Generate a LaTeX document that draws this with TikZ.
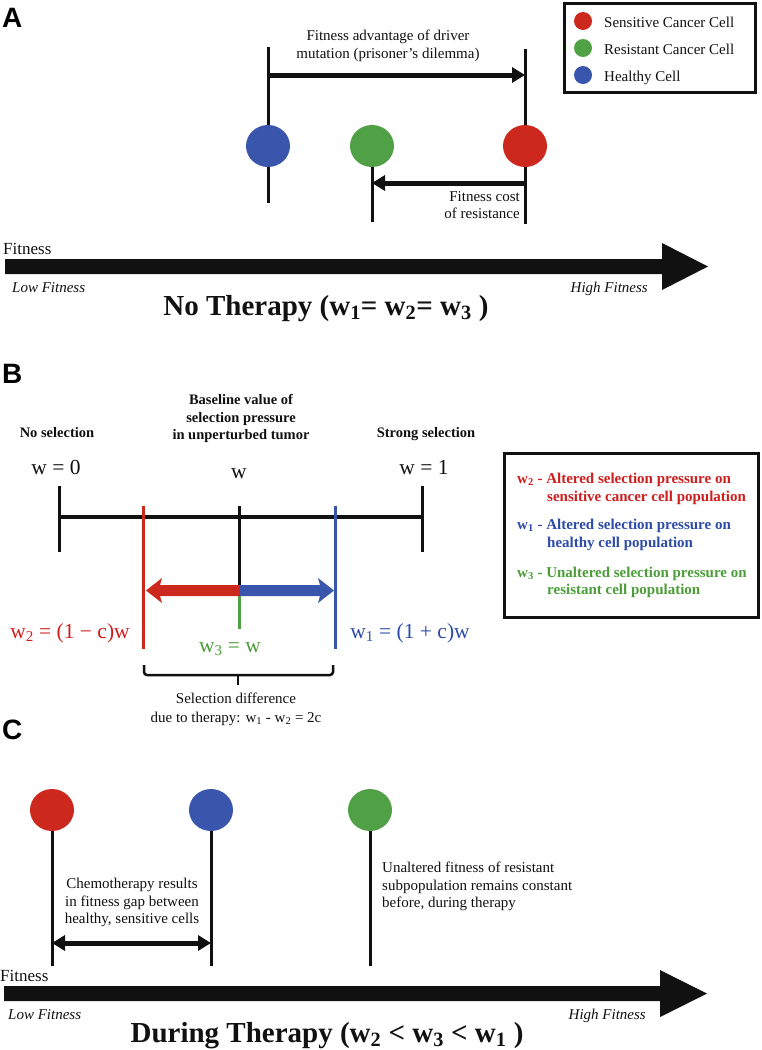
\documentclass[tikz,border=0pt]{standalone}
\usepackage{fontspec}
\setmainfont{Liberation Serif}
\newfontfamily\panelfont{Liberation Sans}
\usetikzlibrary{arrows.meta,shapes.geometric}
\definecolor{cred}{RGB}{204,40,30}
\definecolor{cgreen}{RGB}{80,160,70}
\definecolor{cblue}{RGB}{58,86,172}
\definecolor{tred}{RGB}{208,30,30}
\definecolor{tgreen}{RGB}{75,158,55}
\definecolor{tblue}{RGB}{45,75,168}
\definecolor{ink}{RGB}{17,17,17}
\tikzset{
  panel/.style={font=\panelfont\bfseries\fontsize{28}{30}\selectfont, inner sep=0pt},
  txt/.style={font=\fontsize{15}{17}\selectfont, inner sep=0pt, text=ink},
  txtit/.style={font=\itshape\fontsize{15}{17}\selectfont, inner sep=0pt, text=ink},
  axlab/.style={font=\fontsize{17}{19}\selectfont, inner sep=0pt, text=ink},
  btxt/.style={font=\bfseries\fontsize{14.5}{17}\selectfont, inner sep=0pt, text=ink},
  legtxt/.style={font=\bfseries\fontsize{15}{17}\selectfont, inner sep=0pt, anchor=base west},
  bigtitle/.style={font=\bfseries\fontsize{29}{32}\selectfont, inner sep=0pt, text=ink},
  formula/.style={font=\fontsize{21.5}{24}\selectfont, inner sep=0pt, text=ink},
  cell/.style={ellipse, minimum width=44pt, minimum height=42pt, inner sep=0pt, draw=none},
  dot/.style={circle, minimum size=18pt, inner sep=0pt, draw=none},
  vbar/.style={line width=3pt, draw=ink},
  legbox/.style={draw=ink, line width=2.5pt, inner sep=0pt, anchor=north west},
  thinarrow/.style={draw=ink, line width=5pt, -{Triangle[length=13pt,width=15pt]}},
  gaparrow/.style={draw=ink, line width=5pt, {Triangle[length=13pt,width=15pt]}-{Triangle[length=13pt,width=15pt]}},
}
\begin{document}
\begin{tikzpicture}[x=1pt,y=-1pt]
\useasboundingbox (0,0) rectangle (762,1050);
\fill[white] (0,0) rectangle (762,1050);

% ================= Panel A =================
\node[panel, anchor=base west] (labA) at (2,27) {A};

% legend
\node[legbox, minimum width=191pt, minimum height=89pt] (legA) at (563,2) {};
\node[dot, fill=cred] (lsens) at (583,21) {};
\node[txt, anchor=base west] (lsensT) at (604,27) {Sensitive Cancer Cell};
\node[dot, fill=cgreen] (lres) at (583,48) {};
\node[txt, anchor=base west] (lresT) at (604,54) {Resistant Cancer Cell};
\node[dot, fill=cblue] (lheal) at (583,75) {};
\node[txt, anchor=base west] (lhealT) at (604,81) {Healthy Cell};

% texts
\node[txt, anchor=base] (adv1) at (388,40) {Fitness advantage of driver};
\node[txt, anchor=base] (adv2) at (388,58) {mutation (prisoner’s dilemma)};
\node[txt, anchor=base east] (cost1) at (520,201) {Fitness cost};
\node[txt, anchor=base east] (cost2) at (520,218) {of resistance};

% cells
\node[cell, fill=cblue] (hA) at (268,146) {};
\node[cell, fill=cgreen] (rA) at (372,146) {};
\node[cell, fill=cred] (sA) at (525,146) {};
\coordinate (hAt) at (268,47);
\coordinate (hAb) at (268,203);
\coordinate (sAt) at (525,49);
\coordinate (sAb) at (525,224);
\coordinate (rAb) at (372,222);
\draw[vbar] (hA.north) -- (hAt);
\draw[vbar] (hA.south) -- (hAb);
\draw[vbar] (sA.north) -- (sAt);
\draw[vbar] (sA.south) -- (sAb);
\draw[vbar] (rA.south) -- (rAb);

\coordinate (advL) at (268,75);
\coordinate (advR) at (525,75);
\draw[thinarrow] (advL) -- (advR);
\coordinate (costR) at (525,183);
\coordinate (costL) at (372,183);
\draw[thinarrow] (costR) -- (costL);

% axis
\node[axlab, anchor=base west] (fitA) at (3,254) {Fitness};
\fill[ink] (5,259) -- (662,259) -- (662,243) -- (708,266.5) -- (662,290) -- (662,274) -- (5,274) -- cycle;
\node[txtit, anchor=base west] (lowA) at (12,292) {Low Fitness};
\node[txtit, anchor=base east] (highA) at (648,292) {High Fitness};
\node[bigtitle, anchor=base] (titleA) at (326,315) {No Therapy (w\textsubscript{1}= w\textsubscript{2}= w\textsubscript{3} )};

% ================= Panel B =================
\node[panel, anchor=base west] (labB) at (2,383) {B};
\node[btxt, anchor=base] (nosel) at (57,437) {No selection};
\node[btxt, anchor=base] (base1) at (241,404) {Baseline value of};
\node[btxt, anchor=base] (base2) at (241,422) {selection pressure};
\node[btxt, anchor=base] (base3) at (241,439) {in unperturbed tumor};
\node[btxt, anchor=base] (strong) at (426,437) {Strong selection};
\node[formula, anchor=base] (w0) at (56,474) {w = 0};
\node[formula, anchor=base] (wmid) at (239,478) {w};
\node[formula, anchor=base] (w1v) at (424,474) {w = 1};

\coordinate (axL) at (59,517);
\coordinate (axR) at (422,517);
\coordinate (tLt) at (59,486);
\coordinate (tLb) at (59,552);
\coordinate (tRt) at (422,486);
\coordinate (tRb) at (422,552);
\draw[line width=3.5pt, draw=ink] (axL) -- (axR);
\draw[vbar] (tLt) -- (tLb);
\draw[vbar] (tRt) -- (tRb);

\coordinate (midT) at (239,506);
\coordinate (midA) at (239,586);
\coordinate (midG) at (239,595);
\coordinate (midB) at (239,629);
\draw[vbar] (midT) -- (midA);
\draw[line width=3pt, draw=cgreen] (midG) -- (midB);

\coordinate (redT) at (143,506);
\coordinate (redB) at (143,649);
\coordinate (bluT) at (335,506);
\coordinate (bluB) at (335,649);
\draw[line width=3pt, draw=cred] (redT) -- (redB);
\draw[line width=3pt, draw=cblue] (bluT) -- (bluB);

% double coloured arrow
\fill[cred] (239,585) -- (160,585) -- (162,578) -- (146,590.5) -- (162,603) -- (160,596) -- (239,596) -- cycle;
\fill[cblue] (239,585) -- (320,585) -- (318,578) -- (334,590.5) -- (318,603) -- (320,596) -- (239,596) -- cycle;

\node[formula, anchor=base, text=tred] (w2f) at (70,638) {w\textsubscript{2} = (1 − c)w};
\node[formula, anchor=base, text=tgreen] (w3f) at (230,652) {w\textsubscript{3} = w};
\node[formula, anchor=base, text=tblue] (w1f) at (410,638) {w\textsubscript{1} = (1 + c)w};

% brace
\coordinate (brL) at (144,665);
\coordinate (brR) at (333,665);
\coordinate (brM) at (238,675);
\coordinate (brT) at (238,685);
\draw[line width=2.5pt, draw=ink, rounded corners=3pt] (brL) -- (144,675) -- (333,675) -- (brR);
\draw[line width=2.5pt, draw=ink] (brM) -- (brT);
\node[txt, anchor=base] (seld1) at (236,703) {Selection difference};
\node[txt, anchor=base] (seld2) at (236,722) {due to therapy: w\textsubscript{1} - w\textsubscript{2} = 2c};

% legend B
\node[legbox, minimum width=254pt, minimum height=164pt] (legB) at (503,452) {};
\node[legtxt, text=tred] (lb1a) at (517,483) {w\textsubscript{2} - Altered selection pressure on};
\node[legtxt, text=tred] (lb1b) at (547,501) {sensitive cancer cell population};
\node[legtxt, text=tblue] (lb2a) at (517,529) {w\textsubscript{1} - Altered selection pressure on};
\node[legtxt, text=tblue] (lb2b) at (547,547) {healthy cell population};
\node[legtxt, text=tgreen] (lb3a) at (517,577) {w\textsubscript{3} - Unaltered selection pressure on};
\node[legtxt, text=tgreen] (lb3b) at (547,594) {resistant cell population};

% ================= Panel C =================
\node[panel, anchor=base west] (labC) at (2,739) {C};
\node[cell, fill=cred] (sC) at (52,810) {};
\node[cell, fill=cblue] (hC) at (211,810) {};
\node[cell, fill=cgreen] (rC) at (370,810) {};
\coordinate (sCb) at (52,966);
\coordinate (hCb) at (211,966);
\coordinate (rCb) at (370,966);
\draw[vbar] (sC.south) -- (sCb);
\draw[vbar] (hC.south) -- (hCb);
\draw[vbar] (rC.south) -- (rCb);

\coordinate (gapL) at (52,943);
\coordinate (gapR) at (211,943);
\draw[gaparrow] (gapL) -- (gapR);

\node[txt, anchor=base] (ch1) at (132,888) {Chemotherapy results};
\node[txt, anchor=base] (ch2) at (132,906) {in fitness gap between};
\node[txt, anchor=base] (ch3) at (132,923) {healthy, sensitive cells};
\node[txt, anchor=base west] (un1) at (382,872) {Unaltered fitness of resistant};
\node[txt, anchor=base west] (un2) at (382,890) {subpopulation remains constant};
\node[txt, anchor=base west] (un3) at (382,907) {before, during therapy};

\node[axlab, anchor=base west] (fitC) at (0,981) {Fitness};
\fill[ink] (4,986) -- (660,986) -- (660,970) -- (707,993.5) -- (660,1017) -- (660,1001) -- (4,1001) -- cycle;
\node[txtit, anchor=base west] (lowC) at (8,1019) {Low Fitness};
\node[txtit, anchor=base east] (highC) at (646,1019) {High Fitness};
\node[bigtitle, anchor=base] (titleC) at (327,1042) {During Therapy (w\textsubscript{2} < w\textsubscript{3} < w\textsubscript{1} )};
\end{tikzpicture}
\end{document}
